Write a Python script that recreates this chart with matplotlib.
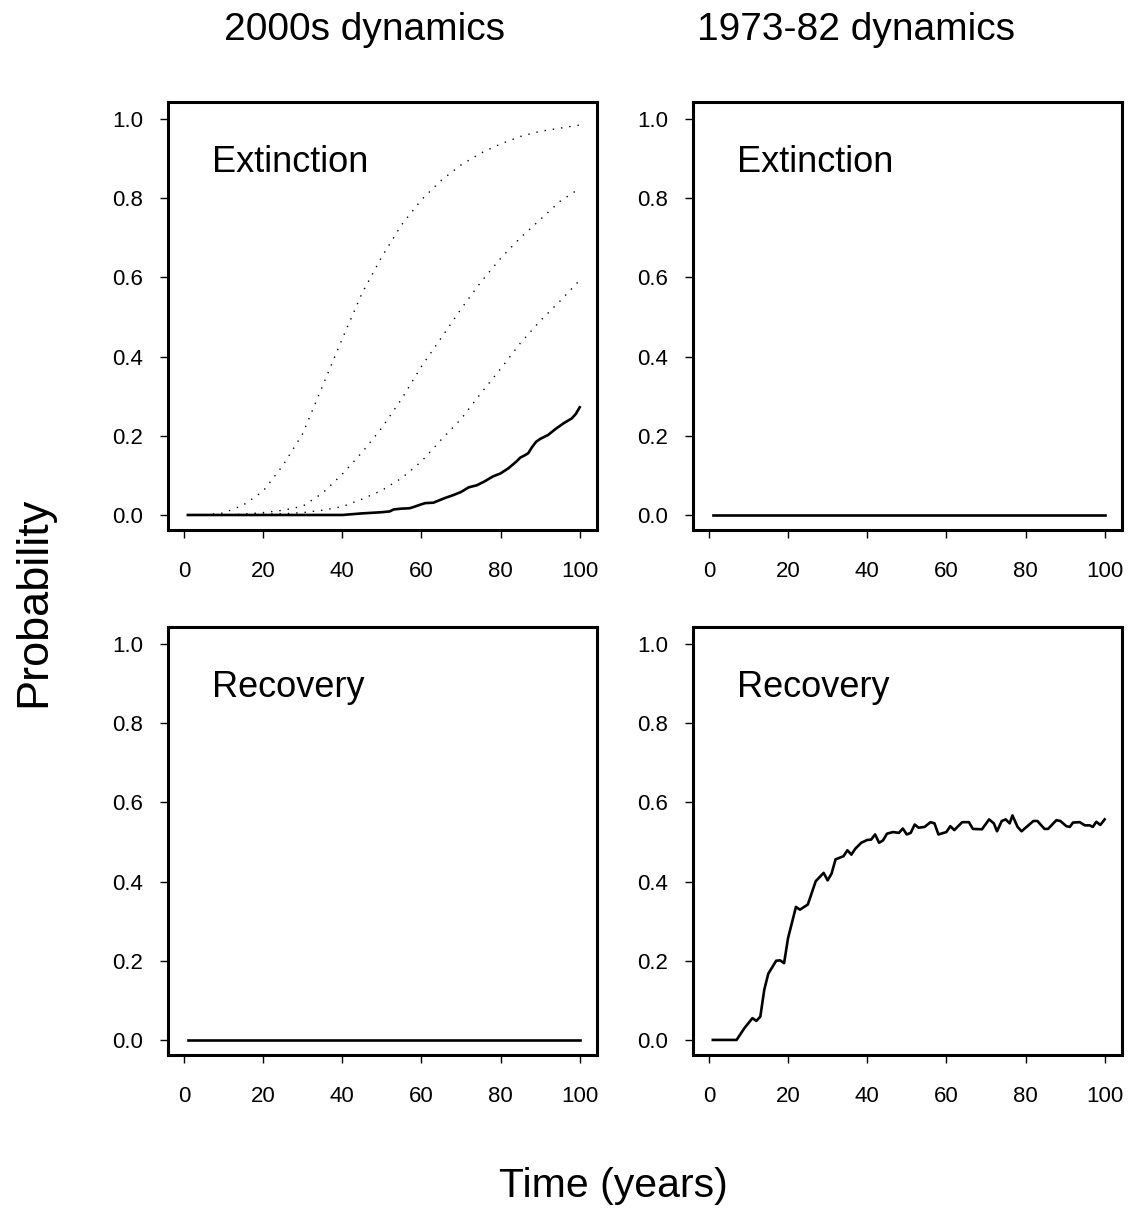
import matplotlib
matplotlib.use("Agg")
from matplotlib import pyplot as plt

plt.rcParams['font.family'] = ['Liberation Sans', 'DejaVu Sans']

# 2000s dynamics, extinction (dotted: three scenarios, solid: baseline)
ext_t = [1, 5, 10, 15, 20, 25, 30, 35, 40, 45, 50, 55, 60, 65, 70, 75, 80, 85, 90, 95, 100]
ext_hi = [0, 0, 0.005, 0.025, 0.06, 0.125, 0.205, 0.325, 0.445, 0.56, 0.652, 0.733,
          0.796, 0.845, 0.884, 0.914, 0.937, 0.956, 0.969, 0.977, 0.985]
ext_mid = [0, 0, 0, 0.002, 0.006, 0.012, 0.022, 0.055, 0.103, 0.158, 0.22, 0.293,
           0.375, 0.447, 0.52, 0.588, 0.648, 0.70, 0.746, 0.792, 0.825]
ext_lo = [0, 0, 0, 0.001, 0.002, 0.003, 0.006, 0.012, 0.021, 0.04, 0.062, 0.093,
          0.135, 0.19, 0.242, 0.307, 0.369, 0.434, 0.49, 0.54, 0.593]

base_t = [1, 40, 45, 50, 52, 53, 55, 57, 58, 60, 61, 63, 65, 66, 68, 70, 72, 74, 76,
          78, 80, 82, 84, 85, 86, 87, 88, 89, 90, 92, 94, 96, 98, 99, 100]
base_p = [0, 0, 0.004, 0.007, 0.009, 0.014, 0.016, 0.017, 0.02, 0.027, 0.03, 0.031,
          0.039, 0.043, 0.05, 0.058, 0.07, 0.075, 0.085, 0.097, 0.105, 0.118, 0.135,
          0.145, 0.15, 0.156, 0.172, 0.185, 0.192, 0.202, 0.218, 0.232, 0.244, 0.255, 0.272]

# 1973-82 dynamics, recovery
rec_t = [1, 7, 9, 11, 12, 13, 14, 15, 17, 18, 19, 20, 22, 23, 25, 27, 29, 30, 31, 32,
         34, 35, 36, 37, 38.5, 40, 41, 42, 43, 44, 45, 46.5, 48, 49, 50, 51, 52, 53,
         54.5, 56, 57, 58, 60, 61, 62, 64, 65.7, 66.7, 69, 70.8, 72, 72.8, 74, 75, 76,
         76.7, 78, 79, 82, 83, 84.8, 85.7, 87.8, 88.8, 90.3, 91.2, 92, 93.7, 95, 96.2,
         97, 97.9, 98.9, 100]
rec_p = [0, 0, 0.03, 0.055, 0.048, 0.059, 0.127, 0.167, 0.2, 0.201, 0.194, 0.257, 0.336,
         0.329, 0.342, 0.401, 0.422, 0.403, 0.42, 0.456, 0.464, 0.479, 0.468, 0.483,
         0.498, 0.505, 0.506, 0.519, 0.498, 0.504, 0.521, 0.525, 0.523, 0.534, 0.519,
         0.523, 0.544, 0.536, 0.538, 0.55, 0.547, 0.519, 0.525, 0.54, 0.53, 0.55, 0.55,
         0.533, 0.532, 0.557, 0.547, 0.527, 0.553, 0.557, 0.547, 0.567, 0.538, 0.527,
         0.553, 0.553, 0.533, 0.533, 0.555, 0.553, 0.54, 0.538, 0.549, 0.55, 0.542,
         0.542, 0.538, 0.551, 0.543, 0.557]

zero_t = [1, 100]
zero_p = [0, 0]

col_titles = ['2000s dynamics', '1973-82 dynamics']
row_labels = ['Extinction', 'Recovery']

fig = plt.figure(figsize=(11.28, 12.09), dpi=100)
lefts = [0.149, 0.6144]
bottoms = [0.5616, 0.1274]
w, h = 0.380, 0.354

axes = {}
for r in range(2):
    for c in range(2):
        ax = fig.add_axes([lefts[c], bottoms[r], w, h])
        axes[(r, c)] = ax
        ax.set_xlim(-4.0, 104.3)
        ax.set_ylim(-0.038, 1.043)
        ax.set_xticks([0, 20, 40, 60, 80, 100])
        ax.set_yticks([0.0, 0.2, 0.4, 0.6, 0.8, 1.0])
        ax.set_yticklabels(['0.0', '0.2', '0.4', '0.6', '0.8', '1.0'])
        for s in ax.spines.values():
            s.set_linewidth(2.2)
        ax.tick_params(axis='both', direction='out', length=6, width=1.0,
                       labelsize=16)
        ax.tick_params(axis='x', pad=16)
        ax.tick_params(axis='y', pad=12)
        ax.text(7.1, 0.89, row_labels[r], fontsize=26, va='center', ha='left')

lw = 1.9
dots = (0, (1, 5))
ax = axes[(0, 0)]
for p in (ext_hi, ext_mid, ext_lo):
    ax.plot(ext_t, p, color='black', linestyle=dots, linewidth=1.0)
ax.plot(base_t, base_p, color='black', linewidth=lw)

for key in [(0, 1), (1, 0)]:
    ax = axes[key]
    ax.plot(zero_t, zero_p, color='black', linewidth=lw)

ax = axes[(1, 1)]
ax.plot(rec_t, rec_p, color='black', linewidth=lw)

fig.text(364 / 1128, 1 - 30 / 1209, col_titles[0], fontsize=28, ha='center', va='center')
fig.text(856 / 1128, 1 - 30 / 1209, col_titles[1], fontsize=28, ha='center', va='center')
fig.text(613 / 1128, 1 - 1186 / 1209, 'Time (years)', fontsize=29.5, ha='center', va='center')
fig.text(34 / 1128, 1 - 602 / 1209, 'Probability', fontsize=32.5, ha='center', va='center',
         rotation=90)

fig.savefig('out.png', dpi=100)
